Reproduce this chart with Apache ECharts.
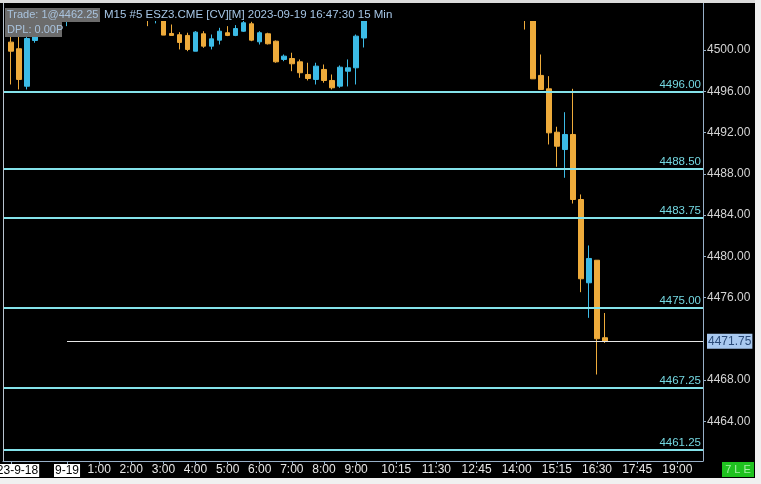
<!DOCTYPE html>
<html><head><meta charset="utf-8">
<script src="https://cdn.jsdelivr.net/npm/echarts@6/dist/echarts.min.js"></script>
<style>html,body{margin:0;padding:0;background:#000}#c{width:761px;height:484px}</style>
</head><body><div id="c"></div>
<script>
// 15-minute slots; first slot is 22:15 of 2023-09-18 (minutes relative to 2023-09-19 00:00)
const slotStart = -105;
const slotStep = 15;
const openP  = [4500.78,4500.14,4496.50,4500.94,null,null,null,4503.00,null,null,null,null,null,null,null,null,null,4503.50,4503.00,4503.00,4501.62,4501.50,4501.43,4499.90,4501.59,4500.39,4500.97,4501.69,4501.43,4501.84,4502.56,4500.81,4501.59,4500.87,4499.10,4499.19,4498.87,4497.64,4497.16,4498.13,4497.06,4496.51,4497.96,4498.29,4501.18,null,null,null,null,null,null,null,null,null,null,null,null,null,null,null,null,null,null,null,4503.40,4503.50,4497.55,4496.25,4492.04,4490.36,4491.82,4485.51,4477.43,4479.62,4472.10];
const closeP = [4499.90,4497.16,4501.13,4501.36,null,null,null,4503.80,null,null,null,null,null,null,null,null,null,4503.00,4503.50,4501.46,4501.43,4500.75,4500.07,4501.75,4500.39,4501.10,4501.84,4501.43,4502.10,4502.66,4500.97,4501.69,4500.62,4498.87,4499.42,4498.68,4497.81,4497.25,4498.45,4497.06,4496.35,4498.35,4498.29,4501.36,4503.50,null,null,null,null,null,null,null,null,null,null,null,null,null,null,null,null,null,null,null,4503.00,4497.22,4496.19,4491.98,4490.68,4491.82,4485.51,4477.82,4479.79,4472.00,4471.75];
const lowP   = [4496.67,4496.19,4496.19,4500.72,null,null,null,4502.33,null,null,null,null,null,null,null,null,null,4502.33,4502.60,4501.46,4501.43,4500.07,4499.90,4499.90,4500.23,4500.07,4500.55,4501.36,4501.36,4501.78,4500.87,4500.55,4500.55,4498.78,4498.93,4497.96,4497.32,4497.06,4496.67,4496.84,4496.19,4496.35,4496.48,4496.67,4500.26,null,null,null,null,null,null,null,null,null,null,null,null,null,null,null,null,null,null,null,4502.00,4497.22,4496.19,4490.85,4488.69,4487.62,4485.12,4476.52,4474.03,4468.53,4471.60];
const highP  = [4502.00,4501.50,4502.00,4502.20,null,null,null,4504.00,null,null,null,null,null,null,null,null,null,4503.80,4503.80,4503.20,4502.49,4501.75,4501.69,4501.85,4501.84,4501.52,4502.17,4502.33,4502.43,4502.83,4502.75,4501.84,4501.69,4500.94,4499.58,4499.75,4499.10,4498.78,4498.78,4498.61,4497.64,4498.52,4499.10,4501.52,4504.00,null,null,null,null,null,null,null,null,null,null,null,null,null,null,null,null,null,null,null,4503.60,4503.80,4499.58,4497.48,4492.57,4493.98,4496.25,4486.00,4481.05,4479.62,4474.50];

const levelLines = [4496.00, 4488.50, 4483.75, 4475.00, 4467.25, 4461.25];
const lastPrice = 4471.75;
const priceTicks = [4464, 4468, 4476, 4480, 4484, 4488, 4492, 4496, 4500];
const timeTickLabels = ['2023-9-18','9-19','1:00','2:00','3:00','4:00','5:00','6:00','7:00','8:00','9:00','10:15','11:30','12:45','14:00','15:15','16:30','17:45','19:00'];
const timeTickMinutes = [-105,0,60,120,180,240,300,360,420,480,540,615,690,765,840,915,990,1065,1140];
const dateLabels = ['2023-9-18','9-19'];

const X_MIN = -119.6, X_MAX = 1188;
const Y_MIN = 4460.14, Y_MAX = 4502.83;
const FRAME = '#98b0c8';
const UP = '#3cbbe6', DOWN = '#eeab3b';

const candles = [];
for (let j = 0; j < openP.length; j++) {
  if (openP[j] == null) continue;
  candles.push([slotStart + j * slotStep, openP[j], closeP[j], lowP[j], highP[j]]);
}

const chart = echarts.init(document.getElementById('c'), null, {renderer: 'canvas'});
chart.setOption({
  backgroundColor: '#000',
  animation: false,
  grid: {left: 3, right: 58, top: 21, bottom: 23, containLabel: false, outerBoundsMode: 'none'},
  xAxis: {
    type: 'value', min: X_MIN, max: X_MAX,
    splitLine: {show: false},
    axisLine: {show: true, onZero: false, lineStyle: {color: FRAME, width: 1}},
    axisTick: {show: true, length: 3, customValues: timeTickMinutes, lineStyle: {color: FRAME}},
    axisLabel: {
      customValues: timeTickMinutes, margin: 3, color: '#e6e6e6',
      fontFamily: 'Liberation Sans', fontSize: 12,
      formatter: function (v) {
        const k = timeTickMinutes.indexOf(v);
        const s = k >= 0 ? timeTickLabels[k] : '';
        return dateLabels.indexOf(s) >= 0 ? '{d|' + s + '}' : s;
      },
      rich: {d: {backgroundColor: '#ffffff', color: '#000', padding: [1, 1, 0, 1], fontSize: 12, fontFamily: 'Liberation Sans'}}
    }
  },
  yAxis: {
    type: 'value', position: 'right', min: Y_MIN, max: Y_MAX, scale: true,
    splitLine: {show: false},
    axisLine: {show: true, onZero: false, lineStyle: {color: FRAME, width: 1}},
    axisTick: {show: true, length: 3, customValues: priceTicks, lineStyle: {color: FRAME}},
    axisLabel: {
      customValues: priceTicks.concat([lastPrice]), margin: 4, color: '#d4d4d4',
      fontFamily: 'Liberation Sans', fontSize: 12,
      formatter: function (v) {
        return v === lastPrice ? '{c|' + v.toFixed(2) + '}' : v.toFixed(2);
      },
      rich: {c: {backgroundColor: '#a9c9f0', color: '#2a4a78', padding: [2, 1, 1, 1], fontSize: 12, fontFamily: 'Liberation Sans'}}
    }
  },
  series: [{
    type: 'candlestick',
    data: candles,
    encode: {x: 0, y: [1, 2, 3, 4]},
    barWidth: 5,
    clip: true,
    itemStyle: {color: UP, color0: DOWN, borderColor: UP, borderColor0: DOWN, borderWidth: 1},
    markLine: {
      silent: true, symbol: ['none', 'none'], animation: false,
      data: levelLines.map(v => ({
        yAxis: v,
        lineStyle: {color: '#84e2ea', width: 2, type: 'solid'},
        label: {show: true, position: 'insideEndTop', distance: [2, 1], formatter: v.toFixed(2),
                color: '#74d8e2', fontSize: 11.5, fontFamily: 'Liberation Sans'}
      })).concat([[
        {coord: [0, lastPrice], lineStyle: {color: '#e6e6e6', width: 1, type: 'solid'}, label: {show: false}},
        {coord: [X_MAX, lastPrice]}
      ]])
    }
  }],
  graphic: [
    {type: 'rect', z: 50, shape: {x: 4, y: 3, width: 699, height: 18}, style: {fill: '#000'}},
    {type: 'rect', z: 100, shape: {x: 0, y: 0, width: 761, height: 3}, style: {fill: '#dcdcdc'}},
    {type: 'rect', z: 100, shape: {x: 0, y: 478, width: 761, height: 6}, style: {fill: '#f0f0f0'}},
    {type: 'rect', z: 100, shape: {x: 755, y: 0, width: 6, height: 484}, style: {fill: '#f0f0f0'}},
    {type: 'line', z: 100, shape: {x1: 3.5, y1: 3, x2: 3.5, y2: 461}, style: {stroke: '#b8c4d0', lineWidth: 1}},
    {type: 'line', z: 100, shape: {x1: 703.5, y1: 3, x2: 703.5, y2: 21}, style: {stroke: FRAME, lineWidth: 1}},
    {type: 'rect', z: 100, shape: {x: 5, y: 8, width: 95, height: 14}, style: {fill: '#6c6c6c'}},
    {type: 'text', z: 101, x: 7, y: 15, style: {text: 'Trade: 1@4462.25', fill: '#a9c3dd', font: '11px "Liberation Sans"', verticalAlign: 'middle'}},
    {type: 'rect', z: 100, shape: {x: 5, y: 22, width: 57, height: 15}, style: {fill: '#6c6c6c'}},
    {type: 'text', z: 101, x: 7, y: 29.5, style: {text: 'DPL: 0.00P', fill: '#a9c3dd', font: '11px "Liberation Sans"', verticalAlign: 'middle'}},
    {type: 'text', z: 101, x: 104, y: 15, style: {text: 'M15 #5 ESZ3.CME [CV][M] 2023-09-19 16:47:30 15 Min', fill: '#a6c6e6', font: '11.5px "Liberation Sans"', verticalAlign: 'middle'}},
    {type: 'rect', z: 100, shape: {x: 722, y: 462, width: 32, height: 15}, style: {fill: '#1fc21f'}},
    {type: 'text', z: 101, x: 738, y: 470, style: {text: '7 L E', fill: '#a6f0a6', font: '11px "Liberation Sans"', align: 'center', verticalAlign: 'middle'}}
  ]
});
</script>
</body></html>
